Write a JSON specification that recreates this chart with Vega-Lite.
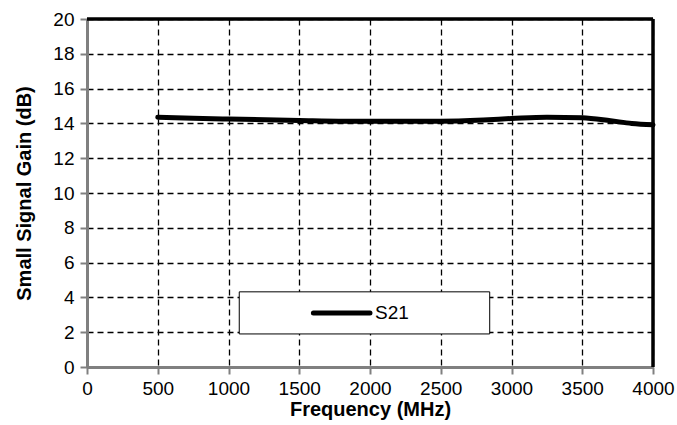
{
  "$schema": "https://vega.github.io/schema/vega-lite/v6.json",
  "autosize": "none",
  "width": 566,
  "height": 348,
  "padding": {"left": 87, "top": 19, "right": 24, "bottom": 58},
  "background": "white",
  "config": {
    "view": {"stroke": null}
  },
  "data": {
    "values": [
      {"freq": 500, "gain": 14.35, "series": "S21"},
      {"freq": 750, "gain": 14.3, "series": "S21"},
      {"freq": 1000, "gain": 14.25, "series": "S21"},
      {"freq": 1500, "gain": 14.17, "series": "S21"},
      {"freq": 2000, "gain": 14.12, "series": "S21"},
      {"freq": 2500, "gain": 14.13, "series": "S21"},
      {"freq": 2800, "gain": 14.2, "series": "S21"},
      {"freq": 3000, "gain": 14.28, "series": "S21"},
      {"freq": 3250, "gain": 14.36, "series": "S21"},
      {"freq": 3500, "gain": 14.32, "series": "S21"},
      {"freq": 3700, "gain": 14.15, "series": "S21"},
      {"freq": 3850, "gain": 14.0, "series": "S21"},
      {"freq": 4000, "gain": 13.92, "series": "S21"}
    ]
  },
  "layer": [
    {
      "mark": {"type": "line", "color": "black", "strokeWidth": 5, "interpolate": "monotone", "strokeCap": "round"},
      "encoding": {
        "x": {
          "field": "freq", "type": "quantitative",
          "scale": {"domain": [0, 4000], "nice": false},
          "axis": {
            "tickCount": 8, "format": "d",
            "title": "Frequency (MHz)", "labelPadding": 5, "titlePadding": 1,
            "labelFont": "Liberation Sans", "labelFontSize": 19, "labelColor": "black", "labelOverlap": false, "labelFlush": false,
            "titleFont": "Liberation Sans", "titleFontSize": 20, "titleFontWeight": "bold", "titleColor": "black",
            "domainColor": "#808080", "domainWidth": 3, "tickColor": "#808080", "tickWidth": 2, "tickSize": 7,
            "gridColor": "black", "gridDash": [6, 4], "gridWidth": 1.3, "gridOpacity": 1
          }
        },
        "y": {
          "field": "gain", "type": "quantitative",
          "scale": {"domain": [0, 20], "nice": false},
          "axis": {
            "tickCount": 10, "format": "d",
            "title": "Small Signal Gain (dB)", "labelPadding": 6, "titlePadding": 18,
            "labelFont": "Liberation Sans", "labelFontSize": 19, "labelColor": "black", "labelOverlap": false, "labelFlush": false,
            "titleFont": "Liberation Sans", "titleFontSize": 20, "titleFontWeight": "bold", "titleColor": "black",
            "domainColor": "#808080", "domainWidth": 3, "tickColor": "#808080", "tickWidth": 2, "tickSize": 7,
            "gridColor": "black", "gridDash": [6, 4], "gridWidth": 1.3, "gridOpacity": 1
          }
        }
      }
    },
    {
      "data": {"values": [{"series": "S21"}]},
      "mark": {"type": "rule", "color": "black", "strokeWidth": 3.5},
      "encoding": {"x": {"datum": 0, "type": "quantitative"}, "x2": {"datum": 4000}, "y": {"datum": 20, "type": "quantitative"}}
    },
    {
      "data": {"values": [{"series": "S21"}]},
      "mark": {"type": "rule", "color": "black", "strokeWidth": 3.5},
      "encoding": {"x": {"datum": 4000, "type": "quantitative"}, "y": {"datum": 0, "type": "quantitative"}, "y2": {"datum": 20}}
    },
    {
      "data": {"values": [{"series": "S21"}]},
      "mark": {"type": "rect", "fill": "white", "stroke": "black", "strokeWidth": 1},
      "encoding": {"x": {"datum": 1076, "type": "quantitative"}, "x2": {"datum": 2846}, "y": {"datum": 4.32, "type": "quantitative"}, "y2": {"datum": 1.9}}
    },
    {
      "data": {"values": [{"series": "S21"}]},
      "mark": {"type": "rule", "color": "black", "strokeWidth": 5, "strokeCap": "round"},
      "encoding": {"x": {"datum": 1600, "type": "quantitative"}, "x2": {"datum": 2000}, "y": {"datum": 3.1, "type": "quantitative"}}
    },
    {
      "data": {"values": [{"series": "S21"}]},
      "mark": {"type": "text", "align": "left", "baseline": "middle", "fontSize": 19, "font": "Liberation Sans", "fill": "black", "dx": 5},
      "encoding": {"x": {"datum": 2000, "type": "quantitative"}, "y": {"datum": 3.1, "type": "quantitative"}, "text": {"field": "series"}}
    }
  ]
}
